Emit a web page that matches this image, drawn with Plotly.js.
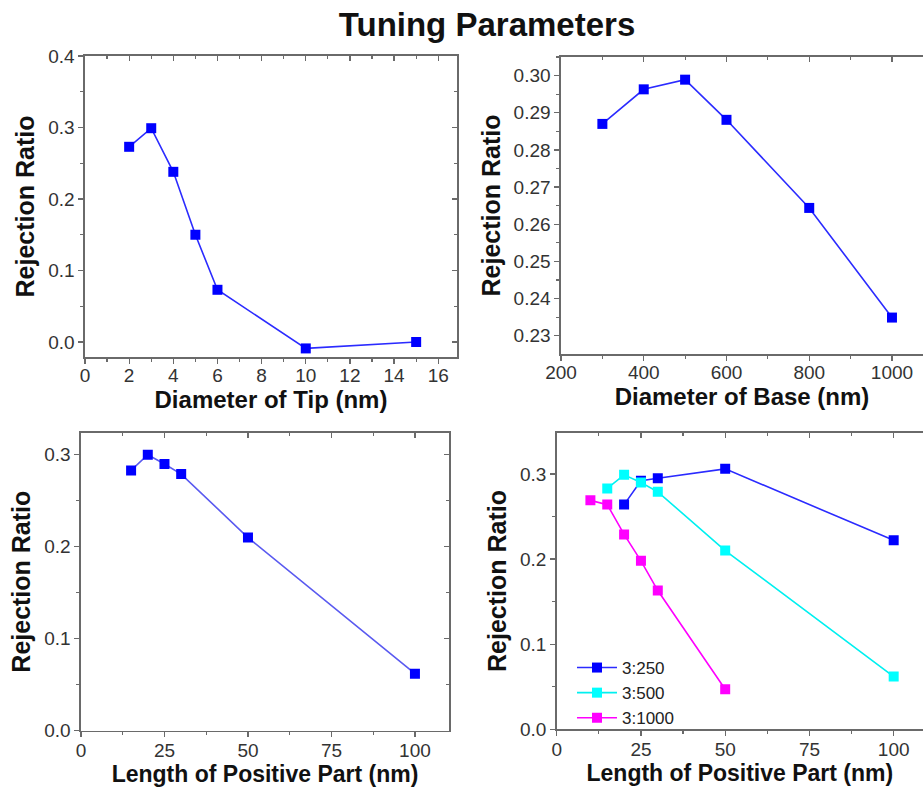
<!DOCTYPE html>
<html>
<head>
<meta charset="utf-8">
<script src="https://cdn.plot.ly/plotly-3.0.1.min.js"></script>
<style>html,body{margin:0;padding:0;background:#fff;}#chart{width:923px;height:787px;}</style>
</head>
<body>
<div id="chart"></div>
<script>
// ---- data ----
const tipDiameter = [2, 3, 4, 5, 6, 10, 15];
const tipRejection = [0.273, 0.299, 0.238, 0.150, 0.073, -0.009, 0.000];

const baseDiameter = [300, 400, 500, 600, 800, 1000];
const baseRejection = [0.2870, 0.2963, 0.2989, 0.2881, 0.2644, 0.2349];

const positiveLength = [15, 20, 25, 30, 50, 100];
const positiveRejection = [0.283, 0.300, 0.290, 0.279, 0.210, 0.062];

const ratio250Length = [20, 25, 30, 50, 100];
const ratio250Rejection = [0.264, 0.292, 0.295, 0.306, 0.222];
const ratio500Length = [15, 20, 25, 30, 50, 100];
const ratio500Rejection = [0.283, 0.299, 0.290, 0.279, 0.210, 0.062];
const ratio1000Length = [10, 15, 20, 25, 30, 50];
const ratio1000Rejection = [0.269, 0.264, 0.229, 0.198, 0.163, 0.047];
const seriesNames = ['3:250', '3:500', '3:1000'];

const chartTitle = 'Tuning Parameters';
const yTitle = 'Rejection Ratio';
const xTitles = ['Diameter of Tip (nm)', 'Diameter of Base (nm)', 'Length of Positive Part (nm)', 'Length of Positive Part (nm)'];

// ---- styling ----
const FONT = 'Liberation Sans, Arial, sans-serif';
const AXC = '#6a6a6a';
const BLUE = '#0000ff';

function sq(color, lineColor, name, show, x, y, xa, ya) {
  return {
    type: 'scatter', mode: 'lines+markers', x: x, y: y, xaxis: xa, yaxis: ya,
    name: name, showlegend: show,
    line: {color: lineColor, width: 1.6},
    marker: {symbol: 'square', size: 10, color: color, line: {width: 0}}
  };
}
// empty helper traces so that the mirrored (top / right) frame axes get drawn
function frameHelper(xa, ya) {
  return {type: 'scatter', mode: 'markers', x: [null], y: [null], xaxis: xa, yaxis: ya,
          showlegend: false, hoverinfo: 'skip', marker: {opacity: 0}};
}

const traces = [
  sq(BLUE, '#2b2bff', 'tip', false, tipDiameter, tipRejection, 'x', 'y'),
  sq(BLUE, '#2b2bff', 'base', false, baseDiameter, baseRejection, 'x2', 'y2'),
  sq(BLUE, '#5a5af0', 'positive', false, positiveLength, positiveRejection, 'x3', 'y3'),
  sq(BLUE, '#2b2bff', seriesNames[0], true, ratio250Length, ratio250Rejection, 'x4', 'y4'),
  sq('#00ffff', '#00f0f0', seriesNames[1], true, ratio500Length, ratio500Rejection, 'x4', 'y4'),
  sq('#ff00ff', '#ff00ff', seriesNames[2], true, ratio1000Length, ratio1000Rejection, 'x4', 'y4'),
  frameHelper('x5', 'y'), frameHelper('x', 'y5'),
  frameHelper('x6', 'y2'),
  frameHelper('x7', 'y3'), frameHelper('x3', 'y7'),
  frameHelper('x8', 'y4')
];

const W = 923, H = 787;
const px = v => v / W;
const py = v => 1 - v / H;

function xMain(domPx, range, dtick, minor, title, anchor, tsize, labelShift, standoff) {
  return {
    domain: [px(domPx[0]), px(domPx[1])], range: range, anchor: anchor,
    showgrid: false, zeroline: false, showline: true, linecolor: AXC, linewidth: 1.6,
    ticks: 'outside', ticklen: 5, tickwidth: 1.3, tickcolor: AXC, dtick: dtick, tick0: 0,
    minor: {ticks: 'outside', ticklen: 3, tickwidth: 1.2, tickcolor: AXC, dtick: minor, showgrid: false},
    ticklabelstandoff: labelShift,
    tickfont: {family: FONT, size: 19, color: '#333'},
    title: {text: title, font: {family: FONT, size: tsize, color: '#111', weight: 'bold'}, standoff: standoff}
  };
}
function yMain(domPx, range, dtick, minor, fmt, anchor, standoff) {
  return {
    domain: [py(domPx[1]), py(domPx[0])], range: range, anchor: anchor,
    showgrid: false, zeroline: false, showline: true, linecolor: AXC, linewidth: 1.6,
    ticks: 'outside', ticklen: 5, tickwidth: 1.3, tickcolor: AXC, dtick: dtick, tick0: 0,
    minor: {ticks: 'outside', ticklen: 3, tickwidth: 1.2, tickcolor: AXC, dtick: minor, showgrid: false},
    tickformat: fmt,
    tickfont: {family: FONT, size: 19, color: '#333'},
    title: {text: yTitle, font: {family: FONT, size: 25, color: '#111', weight: 'bold'}, standoff: standoff}
  };
}
function xTop(over, anchor, range, dtick, minor) {
  return {
    overlaying: over, anchor: anchor, side: 'top', range: range,
    showgrid: false, zeroline: false, showline: true, linecolor: AXC, linewidth: 1.6,
    ticks: 'inside', ticklen: 5, tickwidth: 1.3, tickcolor: AXC, dtick: dtick, tick0: 0,
    minor: {ticks: 'inside', ticklen: 3, tickwidth: 1.2, tickcolor: AXC, dtick: minor, showgrid: false},
    showticklabels: false
  };
}
function yRight(over, anchor, range, dtick, minor) {
  return {
    overlaying: over, anchor: anchor, side: 'right', range: range,
    showgrid: false, zeroline: false, showline: true, linecolor: AXC, linewidth: 1.6,
    ticks: 'inside', ticklen: 5, tickwidth: 1.3, tickcolor: AXC, dtick: dtick, tick0: 0,
    minor: {ticks: 'inside', ticklen: 3, tickwidth: 1.2, tickcolor: AXC, dtick: minor, showgrid: false},
    showticklabels: false
  };
}

const r1x = [0, 16.85], r1y = [-0.021, 0.4];
const r2x = [200, 1075], r2y = [0.2251, 0.305];
const r3x = [0, 110.2], r3y = [0, 0.324];
const r4x = [0, 108.7], r4y = [0, 0.3485];

const layout = {
  width: W, height: H,
  margin: {l: 0, r: 0, t: 0, b: 0},
  paper_bgcolor: '#fff', plot_bgcolor: '#fff',
  font: {family: FONT},
  title: {text: chartTitle, font: {family: FONT, size: 33, color: '#111', weight: 'bold'},
          x: 487 / W, xanchor: 'center', xref: 'paper', y: py(24), yanchor: 'middle', yref: 'paper'},
  xaxis: xMain([85, 457], r1x, 2, 1, xTitles[0], 'y', 24, -4, 1),
  yaxis: yMain([56, 357], r1y, 0.1, 0.05, '.1f', 'x', 6),
  xaxis2: xMain([561, 923], r2x, 200, 100, xTitles[1], 'y2', 24, -4, 1),
  yaxis2: yMain([57, 354], r2y, 0.01, 0.005, '.2f', 'x2', 6),
  xaxis3: xMain([81, 449], r3x, 25, 12.5, xTitles[2], 'y3', 23, -3, 6),
  yaxis3: yMain([432.7, 730.7], r3y, 0.1, 0.05, '.1f', 'x3', 6),
  xaxis4: xMain([556.7, 923], r4x, 25, 12.5, xTitles[3], 'y4', 23, -3, 6),
  yaxis4: yMain([432.7, 729.3], r4y, 0.1, 0.05, '.1f', 'x4', 6),
  xaxis5: xTop('x', 'y', r1x, 2, 1),
  yaxis5: yRight('y', 'x', r1y, 0.1, 0.05),
  xaxis6: xTop('x2', 'y2', r2x, 200, 100),
  xaxis7: xTop('x3', 'y3', r3x, 25, 12.5),
  yaxis7: yRight('y3', 'x3', r3y, 0.1, 0.05),
  xaxis8: xTop('x4', 'y4', r4x, 25, 12.5),
  showlegend: true,
  legend: {x: px(572), y: py(650), xanchor: 'left', yanchor: 'top', bgcolor: 'rgba(0,0,0,0)',
           font: {family: FONT, size: 17, color: '#222'}, itemwidth: 40, tracegroupgap: 0}
};

Plotly.newPlot('chart', traces, layout, {staticPlot: true, displayModeBar: false});
</script>
</body>
</html>
